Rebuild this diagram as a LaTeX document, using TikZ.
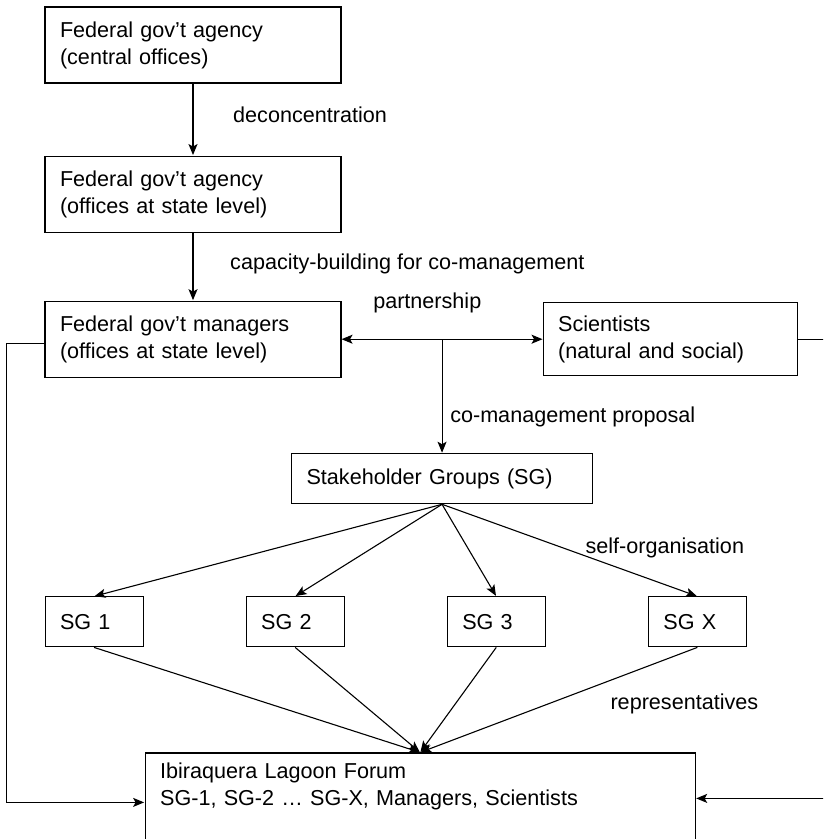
\documentclass[tikz,border=0pt]{standalone}
\usepackage{fontspec}
\setmainfont{Liberation Sans}
\usetikzlibrary{arrows.meta,positioning,calc}
\tikzset{
  >={Stealth[length=11pt, width=9pt, inset=2.5pt]},
  pre/.style    = {<-, shorten <=0.5pt, line width=1.1pt},
  post/.style   = {->, shorten >=0.5pt, line width=1.1pt},
  both/.style   = {<->, line width=1.1pt},
  box/.style    = {draw, rectangle, line width=1.1pt, align=left, inner xsep=15pt, inner ysep=6pt},
  govbox/.style = {box, text width=266pt, minimum height=76pt},
  sgbox/.style  = {box, text width=68pt, minimum height=50pt},
  lbl/.style    = {anchor=west, inner sep=0pt}
}

\begin{document}
\begin{tikzpicture}[font=\fontsize{21.6}{27}\selectfont]
      \useasboundingbox (0pt,0pt) rectangle (823pt,-839pt);
      \clip (0pt,0pt) rectangle (823pt,-839pt);
      \node[govbox] (fedcentral) at (193pt,-45pt) {Federal gov’t agency\\(central offices)};
      \node[govbox] (fedstate) [below=72pt of fedcentral] {Federal gov’t agency\\(offices at state level)}
      edge [pre]
      (fedcentral);
      \node[govbox] (fedmanagers) [below=68pt of fedstate] {Federal gov’t managers\\(offices at state level)}
      edge [pre]
      (fedstate);
      \node[box, text width=224pt, minimum height=73pt] (scientists) [right=201pt of fedmanagers] {Scientists\\(natural and social)};
      \draw [both] (fedmanagers) -- (scientists);
      \coordinate (split) at ($(fedmanagers.east)!0.5!(scientists.west)$);
      \node[box, text width=271pt, minimum height=50pt] (stakeholder) [below=114pt of split] {Stakeholder Groups (SG)};
      \draw [post] (split) -- (stakeholder);
      %Groups
      \node[sgbox] (sgone) [below=92pt of stakeholder, xshift=-348pt] {SG 1};
      \node[sgbox] (sgtwo) [right=102pt of sgone] {SG 2};
      \node[sgbox] (sgthree) [right=102pt of sgtwo] {SG 3};
      \node[sgbox] (sgx) [right=102pt of sgthree] {SG X};
      \draw [post] (stakeholder.south) -- (sgone.north);
      \draw [post] (stakeholder.south) -- (sgtwo.north);
      \draw [post] (stakeholder.south) -- (sgthree.north);
      \draw [post] (stakeholder.south) -- (sgx.north);
      %Forum
      \node[box, text width=520pt, inner ysep=10pt, text depth=100pt] (forum) [below=105pt of sgtwo, xshift=125pt] {Ibiraquera Lagoon Forum\\SG-1, SG-2 … SG-X, Managers, Scientists};
      \draw [post] (sgone.south) -- (forum.north);
      \draw [post] (sgtwo.south) -- (forum.north);
      \draw [post] (sgthree.south) -- (forum.north);
      \draw [post] (sgx.south) -- (forum.north);
      \draw [post] ([yshift=-4pt]fedmanagers.west) -- ++(-38pt,0) |- ([yshift=-50pt]forum.north west);
      \draw [post] (scientists.east) -- ++(40pt,0) |- ([yshift=-46pt]forum.north east);
      %Labels
      \node [lbl] (deconlbl) at ([xshift=40pt, yshift=41pt]fedstate.north) {deconcentration};
      \node [lbl] (capacitylbl) at ([xshift=37pt, yshift=37pt]fedmanagers.north) {capacity-building for co-management};
      \node [lbl] (partnerlbl) at ([xshift=-69pt, yshift=36pt]split) {partnership};
      \node [lbl] (proposallbl) at ([xshift=8pt, yshift=-78pt]split) {co-management proposal};
      \node [lbl] (selforglbl) at ([xshift=-112pt, yshift=48pt]sgx.north) {self-organisation};
      \node [lbl] (reprlbl) at ([xshift=-87pt, yshift=-57pt]sgx.south) {representatives};
\end{tikzpicture}
\end{document}
